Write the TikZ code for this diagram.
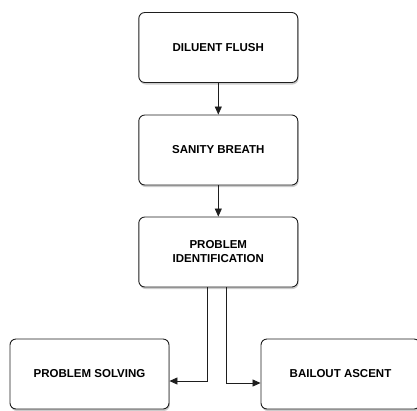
\documentclass[tikz,border=0pt]{standalone}
\usepackage{fontspec}
\setmainfont{Liberation Sans}
\usetikzlibrary{arrows.meta,shadows}
\definecolor{boxLine}{RGB}{30,30,30}
\tikzset{
  stagebox/.style={rectangle,rounded corners=6pt,draw=boxLine,line width=0.9pt,fill=white,
    minimum width=159pt,minimum height=70pt,align=center,
    font=\fontsize{11.5}{14}\selectfont\bfseries,
    drop shadow={opacity=0.4,shadow xshift=0.8pt,shadow yshift=-2pt}},
  flow/.style={-{Triangle[length=8pt,width=7pt]},line width=0.8pt,draw=boxLine}
}
\begin{document}
\begin{tikzpicture}[x=1pt,y=1pt]
\useasboundingbox (0,0) rectangle (417,-410);

\node[stagebox] (flush) at (218.3,-47.5) {DILUENT FLUSH};
\node[stagebox] (sanity) at (218.3,-150) {SANITY BREATH};
\node[stagebox] (probid) at (218.3,-252) {PROBLEM\\IDENTIFICATION};

\node[stagebox] (solving) at (89.5,-374) {PROBLEM SOLVING};
\node[stagebox] (bailout) at (340.5,-374) {BAILOUT ASCENT};

\draw[flow] (flush) -- (sanity);
\draw[flow] (sanity) -- (probid);
\draw[flow] ([xshift=-10.5pt]probid.south) |- ([yshift=-7pt]solving.east);
\draw[flow] ([xshift=8.5pt]probid.south) |- ([yshift=-9pt]bailout.west);
\end{tikzpicture}
\end{document}
